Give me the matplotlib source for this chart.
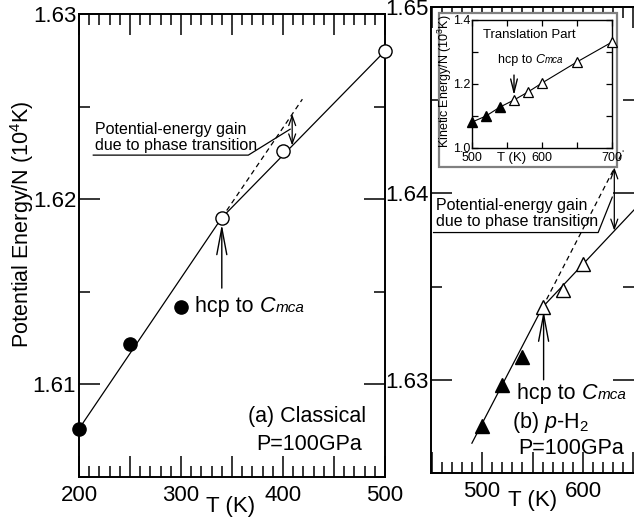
import matplotlib
matplotlib.use("Agg")
import matplotlib.pyplot as plt
from matplotlib.offsetbox import TextArea, HPacker, AnnotationBbox
from matplotlib.patches import Rectangle
from matplotlib.ticker import MultipleLocator, FuncFormatter

plt.rcParams['font.family'] = ['Liberation Sans', 'DejaVu Sans']
plt.rcParams['mathtext.fontset'] = 'custom'
plt.rcParams['mathtext.rm'] = 'Liberation Sans'
plt.rcParams['mathtext.it'] = 'Liberation Sans:italic'

# (a) classical, potential energy / N in 10^4 K
classical_T_hcp = [200, 250, 300]
classical_E_hcp = [1.6076, 1.6122, 1.6142]
classical_T_cmca = [340, 400, 500]
classical_E_cmca = [1.6190, 1.6226, 1.6280]
classical_low_T = [200, 340]
classical_low_E = [1.6076, 1.6190]
classical_high_T = [340, 500]
classical_high_E = [1.6190, 1.6280]
classical_extra_T = [340, 419]
classical_extra_E = [1.6190, 1.6254]
classical_gain_T = 409
classical_gain_E = [1.6229, 1.6246]

# (b) p-H2
quantum_T_hcp = [500, 520, 540]
quantum_E_hcp = [1.6275, 1.6297, 1.6312]
quantum_T_cmca = [560, 580, 600]
quantum_E_cmca = [1.6339, 1.6348, 1.6362]
quantum_low_T = [490, 560]
quantum_low_E = [1.6266, 1.6339]
quantum_high_T = [560, 652]
quantum_high_E = [1.6339, 1.6392]
quantum_extra_T = [560, 640]
quantum_extra_E = [1.6339, 1.6423]
quantum_gain_T = 631
quantum_gain_E = [1.6380, 1.6414]

# inset: translational kinetic energy / N in 10^3 K
inset_T_hcp = [500, 520, 540]
inset_K_hcp = [1.081, 1.100, 1.128]
inset_T_cmca = [560, 580, 600, 650, 700]
inset_K_cmca = [1.150, 1.175, 1.203, 1.269, 1.331]

gain_text = "Potential-energy gain\ndue to phase transition"


def hundreds(v, pos):
    return f"{v:.0f}" if round(v) % 100 == 0 else ""


def style_axes(ax, major=15, minor=8):
    ax.tick_params(which='both', direction='in', top=True, right=True, width=1.1, labelsize=16)
    ax.tick_params(which='major', length=major)
    ax.tick_params(which='minor', length=minor)
    ax.tick_params(axis='x', pad=6)
    ax.tick_params(axis='y', pad=2)
    ax.xaxis.set_major_locator(MultipleLocator(50))
    ax.xaxis.set_minor_locator(MultipleLocator(10))
    ax.xaxis.set_major_formatter(FuncFormatter(hundreds))
    ax.yaxis.set_major_locator(MultipleLocator(0.01))
    ax.yaxis.set_minor_locator(MultipleLocator(0.005))
    ax.yaxis.set_major_formatter(FuncFormatter(lambda v, p: f"{v:.2f}"))
    for s in ax.spines.values():
        s.set_linewidth(1.4)


def hcp_label(ax, x, y, size, small):
    italic = HPacker(children=[TextArea("C", textprops=dict(size=size, style='italic')),
                               TextArea("mca", textprops=dict(size=small, style='italic'))],
                     align='baseline', pad=0, sep=0)
    box = HPacker(children=[TextArea("hcp to", textprops=dict(size=size)), italic],
                  align='baseline', pad=0, sep=size * 0.28)
    ax.add_artist(AnnotationBbox(box, (x, y), xycoords='data', box_alignment=(0, 0.5),
                                 frameon=False, pad=0))


def up_arrow(ax, x, y0, y1, hl=2.4, hw=0.45, ms=8):
    ax.annotate('', xy=(x, y1), xytext=(x, y0),
                arrowprops=dict(arrowstyle=f'->,head_length={hl},head_width={hw}',
                                lw=1.0, color='black', shrinkA=0, shrinkB=0, mutation_scale=ms))


def gain_arrow(ax, x, ys):
    ax.annotate('', xy=(x, ys[1]), xytext=(x, ys[0]),
                arrowprops=dict(arrowstyle='<->,head_length=0.7,head_width=0.25',
                                lw=0.9, color='black', shrinkA=0, shrinkB=0, mutation_scale=10))


fig = plt.figure(figsize=(6.34, 5.17), dpi=100)

# ---------- (a) classical ----------
ax1 = fig.add_axes([79 / 634, 1 - 477 / 517, 306 / 634, 463 / 517])
style_axes(ax1)
ax1.set_xlim(200, 500)
ax1.set_ylim(1.605, 1.63)
ax1.plot(classical_low_T, classical_low_E, 'k-', lw=0.9)
ax1.plot(classical_high_T, classical_high_E, 'k-', lw=0.9)
ax1.plot(classical_extra_T, classical_extra_E, 'k--', lw=0.9, dashes=(4, 3))
ax1.plot(classical_T_hcp, classical_E_hcp, 'o', ms=9.5, color='black', clip_on=False, zorder=5)
ax1.plot(classical_T_cmca, classical_E_cmca, 'o', ms=9.5, mfc='white', mec='black', mew=1.0,
         clip_on=False, zorder=5)
gain_arrow(ax1, classical_gain_T, classical_gain_E)
ax1.plot([214, 366, 407], [1.62238, 1.62238, 1.62378], 'k-', lw=0.9)
ax1.text(216, 1.62335, gain_text, fontsize=11.5, va='center', ha='left', linespacing=1.1)
up_arrow(ax1, 340, 1.6152, 1.61865)
hcp_label(ax1, 314, 1.6142, 15.5, 11)
ax1.text(366, 1.60827, "(a) Classical", fontsize=15.5, va='center')
ax1.text(373.5, 1.60676, "P=100GPa", fontsize=15.5, va='center')
ax1.set_xlabel("T (K)", fontsize=16)
ax1.xaxis.set_label_coords(0.495, -0.041)
ax1.set_ylabel("Potential Energy/N (10$^4$K)", fontsize=15.5)
ax1.yaxis.set_label_coords(-0.14, 0.545)

# ---------- (b) p-H2 ----------
ax2 = fig.add_axes([431 / 634, 1 - 473 / 517, 203 / 634, 466 / 517])
style_axes(ax2)
ax2.spines['right'].set_visible(False)
ax2.set_xlim(449.5, 650.5)
ax2.set_ylim(1.625, 1.65)
ax2.plot(quantum_low_T, quantum_low_E, 'k-', lw=0.9)
ax2.plot(quantum_high_T, quantum_high_E, 'k-', lw=0.9)
ax2.plot(quantum_extra_T, quantum_extra_E, 'k--', lw=0.9, dashes=(4, 3))
ax2.plot(quantum_T_hcp, quantum_E_hcp, '^', ms=10.5, color='black', zorder=5)
ax2.plot(quantum_T_cmca, quantum_E_cmca, '^', ms=10.5, mfc='white', mec='black', mew=1.0, zorder=5)
gain_arrow(ax2, quantum_gain_T, quantum_gain_E)
ax2.plot([452, 615, 629], [1.6379, 1.6379, 1.6398], 'k-', lw=0.9)
ax2.text(454, 1.63892, gain_text, fontsize=11.5, va='center', ha='left', linespacing=1.1)
up_arrow(ax2, 561, 1.6300, 1.6337)
hcp_label(ax2, 535, 1.62925, 15.5, 11)
ax2.text(530, 1.6277, "(b) $p$-H$_2$", fontsize=15.5, va='center')
ax2.text(536, 1.6263, "P=100GPa", fontsize=15.5, va='center')
ax2.set_xlabel("T (K)", fontsize=16)
ax2.xaxis.set_label_coords(0.5, -0.036)

# ---------- inset ----------
frame = Rectangle((439 / 634, 1 - 167 / 517), 178 / 634, 154 / 517, transform=fig.transFigure,
                  facecolor='white', edgecolor='#808080', lw=1.6, zorder=1)
fig.add_artist(frame)
ax3 = fig.add_axes([472 / 634, 1 - 148 / 517, 140 / 634, 128 / 517])
ax3.set_zorder(2)
ax3.tick_params(which='both', direction='in', top=True, right=True, length=4, width=0.9,
                labelsize=9, pad=1)
ax3.tick_params(axis='x', pad=3)
ax3.set_xlim(500, 700)
ax3.set_ylim(1.0, 1.4)
ax3.xaxis.set_major_locator(MultipleLocator(50))
ax3.xaxis.set_major_formatter(FuncFormatter(hundreds))
ax3.yaxis.set_major_locator(MultipleLocator(0.1))
ax3.yaxis.set_major_formatter(FuncFormatter(lambda v, p: f"{v:.1f}" if round(v * 10) % 2 == 0 else ""))
for s in ax3.spines.values():
    s.set_linewidth(1.0)
ax3.plot(inset_T_hcp + inset_T_cmca, inset_K_hcp + inset_K_cmca, 'k-', lw=0.8)
ax3.plot(inset_T_hcp, inset_K_hcp, '^', ms=7.5, color='black', clip_on=False, zorder=5)
ax3.plot(inset_T_cmca, inset_K_cmca, '^', ms=7.5, mfc='white', mec='black', mew=0.9,
         clip_on=False, zorder=5)
ax3.text(516, 1.353, "Translation Part", fontsize=9.5, va='center')
hcp_label(ax3, 537, 1.275, 9, 7)
up_arrow(ax3, 560, 1.228, 1.165, hl=1.6, hw=0.4, ms=6)
ax3.set_xlabel("T (K)", fontsize=9.5)
ax3.xaxis.set_label_coords(0.286, -0.03)
ax3.set_ylabel("Kinetic Energy/N (10$^3$K)", fontsize=9)
ax3.yaxis.set_label_coords(-0.13, 0.52)

fig.savefig("out.png", dpi=100)
